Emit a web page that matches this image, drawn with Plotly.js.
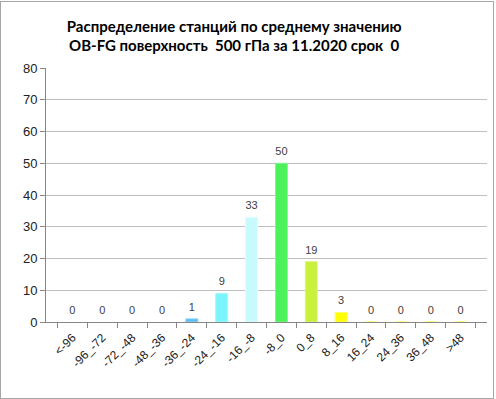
<!DOCTYPE html>
<html><head><meta charset="utf-8">
<script src="https://cdn.plot.ly/plotly-3.0.1.min.js"></script>
<style>
html,body{margin:0;padding:0;background:#fff;}
#wrap{position:relative;width:496px;height:399px;}
#chart{position:absolute;left:0;top:0;width:496px;height:399px;}
#border{position:absolute;left:0;top:1px;width:492px;height:396px;border:1px solid #a6a6a6;pointer-events:none;}
</style></head>
<body><div id="wrap"><div id="chart"></div><div id="border"></div></div>
<script>
const categories = ['<-96','-96_-72','-72_-48','-48_-36','-36_-24','-24_-16','-16_-8','-8_0','0_8','8_16','16_24','24_36','36_48','>48'];
const counts = [0,0,0,0,1,9,33,50,19,3,0,0,0,0];
const barColors = ['#5b9bd5','#5b9bd5','#5b9bd5','#5b9bd5','#5cbcf0','#7cf4fc','#c8fafd','#4cf25a','#c8f03c','#ffff00','#ffff00','#ffff00','#ffff00','#ffff00'];
const lineColors = ['#ffffff','#ffffff','#ffffff','#ffffff','#8fd3f5','#a5f8fd','#e0fcfe','#85f58f','#dcf585','#ffff66','#ffff66','#ffff66','#ffff66','#ffff66'];
const yTicks = [0,10,20,30,40,50,60,70,80];
const titleText = 'Распределение станций по среднему значению<br>OB-FG поверхность  500 гПа за 11.2020 срок  0';

Plotly.newPlot('chart', [{
  type: 'bar',
  x: categories,
  y: counts,
  marker: {color: barColors, line: {color: lineColors, width: 1}},
  hoverinfo: 'none'
}, {
  type: 'scatter',
  mode: 'markers+text',
  x: categories,
  y: counts,
  marker: {size: 7, color: 'rgba(0,0,0,0)'},
  text: counts.map(String),
  textposition: 'top center',
  cliponaxis: false,
  textfont: {family: 'Liberation Sans, Arial, sans-serif', size: 11, color: '#404040'},
  hoverinfo: 'none'
}], {
  width: 496, height: 399,
  margin: {l: 46, r: 9, t: 68, b: 77},
  paper_bgcolor: '#ffffff', plot_bgcolor: '#ffffff',
  bargap: 0.6,
  showlegend: false,
  font: {family: 'Liberation Sans, Arial, sans-serif', color: '#404040'},
  title: {
    text: titleText,
    font: {family: 'Lato, Carlito, sans-serif', size: 15, color: '#000000', weight: 'bold'},
    xref: 'container', x: 0.472, xanchor: 'center',
    yref: 'container', y: 0.92, yanchor: 'top'
  },
  xaxis: {
    type: 'category',
    tickangle: -45,
    tickson: 'boundaries',
    ticks: 'outside', ticklen: 5, tickcolor: '#868686',
    ticklabelstandoff: 3,
    showline: true, linecolor: '#868686', linewidth: 1,
    showgrid: false,
    tickfont: {size: 12, color: '#222222'},
    fixedrange: true
  },
  yaxis: {
    range: [0, 80],
    tickvals: yTicks,
    ticks: 'outside', ticklen: 5, tickcolor: '#868686',
    showline: true, linecolor: '#868686', linewidth: 1,
    showgrid: true, gridcolor: '#bfbfbf', gridwidth: 1,
    zeroline: false,
    tickfont: {size: 13, color: '#222222'},
    fixedrange: true
  }
}, {displayModeBar: false, staticPlot: true});
</script></body></html>
